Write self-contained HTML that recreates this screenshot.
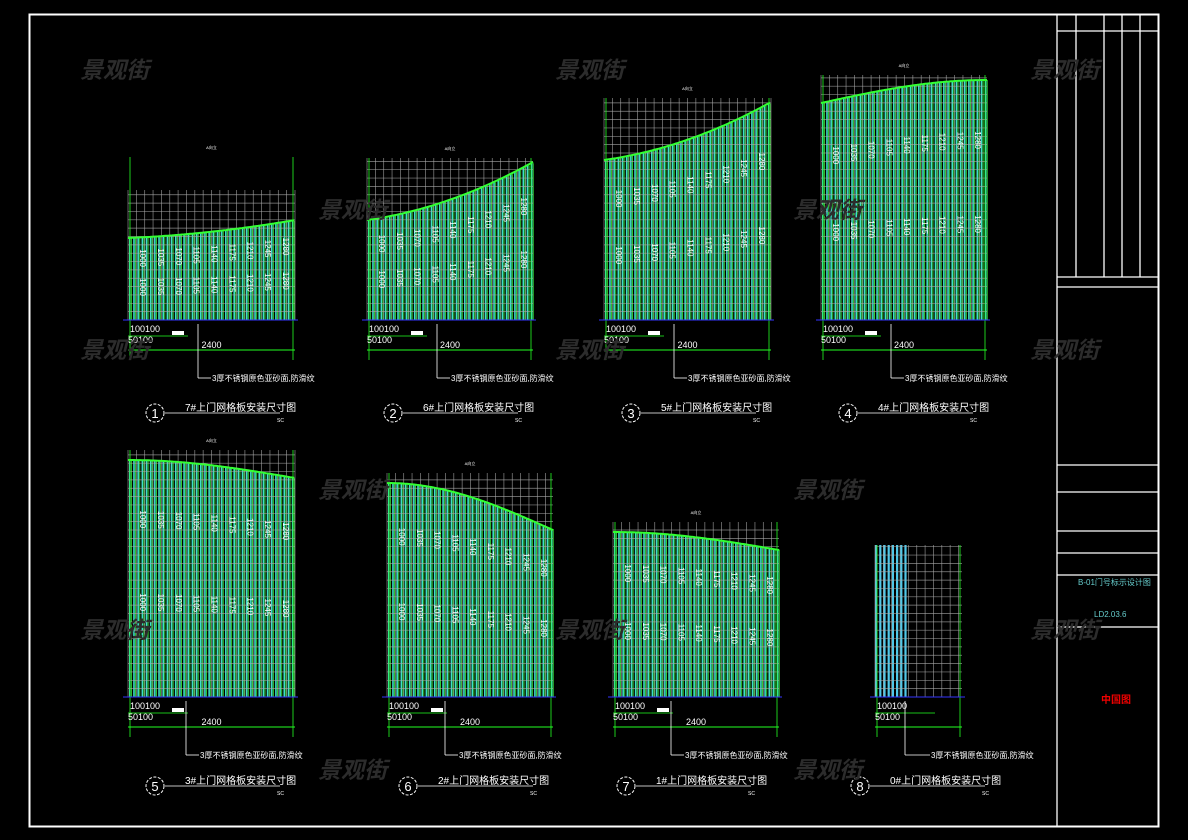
<!DOCTYPE html>
<html><head><meta charset="utf-8"><style>
html,body{margin:0;padding:0;background:#000;}
svg{display:block;}
text{font-family:"Liberation Sans","Noto Sans CJK SC",sans-serif;}
</style></head><body>
<svg id="s" width="1188" height="840" xmlns="http://www.w3.org/2000/svg">
<rect width="1188" height="840" fill="#000"/>
<rect x="29.5" y="14.5" width="1129" height="812" fill="none" stroke="#fff" stroke-width="2"/>
<g stroke="#fff" stroke-width="1.3" fill="none">
<line x1="1057" y1="14" x2="1057" y2="826"/>
<line x1="1057" y1="31" x2="1158" y2="31"/>
<line x1="1076" y1="14" x2="1076" y2="277"/>
<line x1="1104" y1="14" x2="1104" y2="277"/>
<line x1="1122" y1="14" x2="1122" y2="277"/>
<line x1="1140" y1="14" x2="1140" y2="277"/>
<line x1="1057" y1="277" x2="1158" y2="277"/>
<line x1="1057" y1="287" x2="1158" y2="287"/>
<line x1="1057" y1="465" x2="1158" y2="465"/>
<line x1="1057" y1="492" x2="1158" y2="492"/>
<line x1="1057" y1="531" x2="1158" y2="531"/>
<line x1="1057" y1="553" x2="1158" y2="553"/>
<line x1="1057" y1="575" x2="1158" y2="575"/>
<line x1="1057" y1="627" x2="1158" y2="627"/>
</g>
<text x="1078" y="585" fill="#6cc" font-size="8">B-01门号标示设计图</text>
<text x="1094" y="617" fill="#6cc" font-size="8">LD2.03.6</text>
<text x="1101" y="703" fill="#e00" font-size="10" font-weight="bold">中国图</text>
<g id="g"></g>
<g id="wm" fill="#2c2c2c" font-size="23" font-weight="bold" font-style="italic"></g>
</svg>
<script>
const g=document.getElementById('g');let h='';
const P=[
{x0:128,x1:295,yt:190,yb:320,l:238,r:220,ext:157,n:1,t:'7#上门网格板安装尺寸图',row:0},
{x0:367,x1:533,yt:158,yb:320,l:220,r:162,ext:158,n:2,t:'6#上门网格板安装尺寸图',row:0},
{x0:604,x1:771,yt:98,yb:320,l:160,r:102,ext:98,n:3,t:'5#上门网格板安装尺寸图',row:0},
{x0:821,x1:987,yt:75,yb:320,l:103,r:80,ext:75,n:4,t:'4#上门网格板安装尺寸图',row:0},
{x0:128,x1:295,yt:450,yb:697,l:460,r:478,ext:450,n:5,t:'3#上门网格板安装尺寸图',row:1},
{x0:387,x1:553,yt:473,yb:697,l:483,r:530,ext:473,n:6,t:'2#上门网格板安装尺寸图',row:1},
{x0:613,x1:779,yt:522,yb:697,l:532,r:550,ext:522,n:7,t:'1#上门网格板安装尺寸图',row:1},
{x0:875,x1:962,yt:545,yb:697,l:545,r:545,ext:545,n:8,t:'0#上门网格板安装尺寸图',row:1,narrow:1}
];
const st=8.35;
P.forEach(p=>{
 const w=p.x1-p.x0;
 const cy=x=>{const t=(x-p.x0)/w;return p.l+(p.r-p.l)*(p.l>p.r?(p.n==4?Math.sin(t*Math.PI/2):t*t*0.6+t*0.4):(1-Math.cos(t*Math.PI/2)));};
 if(p.narrow){
  for(let x=p.x0;x<p.x0+30;x+=4.2){h+=`<rect x="${x}" y="${p.yt}" width="2.2" height="${p.yb-p.yt}" fill="#4fc8e8"/>`;}
 }else{
  for(let x=p.x0+1;x<p.x1;x+=st/2){const y=cy(x);
   h+=`<rect x="${x}" y="${y}" width="1.6" height="${p.yb-y}" fill="#3ee0c8"/>`;
   h+=`<line x1="${x+2.4}" y1="${y}" x2="${x+2.4}" y2="${p.yb}" stroke="#3c3" stroke-width="1"/>`;}
 }
 // grid
 for(let x=p.x0;x<=p.x1+0.1;x+=st)h+=`<line x1="${x}" y1="${p.yt}" x2="${x}" y2="${p.yb}" stroke="#aaa" stroke-width="0.7" opacity="0.8"/>`;
 for(let y=p.yb;y>=p.yt-0.1;y-=st)h+=`<line x1="${p.x0}" y1="${y}" x2="${p.x1}" y2="${y}" stroke="#aaa" stroke-width="0.7" opacity="0.8"/>`;
 if(!p.narrow){
  let d='';for(let x=p.x0;x<=p.x1;x+=2)d+=(d?'L':'M')+x+','+cy(x).toFixed(1);
  h+=`<path d="${d}" stroke="#3f3" stroke-width="2" fill="none"/>`;
  h+=`<text x="${(p.x0+p.x1)/2}" y="${p.ext-8}" fill="#fff" font-size="4" text-anchor="middle">A向立</text>`;
  for(let i=0;i<9;i++){const x=p.x0+12+i*(w-24)/8;
   [0.45,0.8].forEach(f=>{
   h+=`<text transform="translate(${x},${(cy(x)+(p.yb-cy(x))*(f-0.2)).toFixed(1)}) rotate(90)" fill="#fff" font-size="8" text-anchor="middle">${1000+i*35}</text>`;});}
 }
 h+=`<line x1="${p.x0+2}" y1="${p.ext}" x2="${p.x0+2}" y2="${p.yb+40}" stroke="#2f2" stroke-width="0.8"/>`;
 h+=`<line x1="${p.x1-2}" y1="${p.ext}" x2="${p.x1-2}" y2="${p.yb+40}" stroke="#2f2" stroke-width="0.8"/>`;
 h+=`<line x1="${p.x0-5}" y1="${p.yb}" x2="${p.x1+3}" y2="${p.yb}" stroke="#33f" stroke-width="1"/>`;
 const b=p.yb;
 h+=`<text x="${p.x0+2}" y="${b+12}" fill="#fff" font-size="9">100100</text>`;
 h+=`<text x="${p.x0}" y="${b+23}" fill="#fff" font-size="9">50100</text>`;
 h+=`<line x1="${p.x0}" y1="${b+30}" x2="${p.x1}" y2="${b+30}" stroke="#2f2" stroke-width="1"/>`;
 h+=`<line x1="${p.x0}" y1="${b+16}" x2="${p.x0+60}" y2="${b+16}" stroke="#2f2" stroke-width="0.8"/>`;
 if(!p.narrow){h+=`<text x="${(p.x0+p.x1)/2}" y="${b+28}" fill="#fff" font-size="9" text-anchor="middle">2400</text>`;
 h+=`<rect x="${p.x0+44}" y="${b+11}" width="12" height="4" fill="#fff"/>`;}
 const lx=p.narrow?p.x0+30:p.x0+(p.row?58:70);
 h+=`<line x1="${lx}" y1="${b+4}" x2="${lx}" y2="${b+58}" stroke="#fff" stroke-width="0.8"/>`;
 const ex=p.narrow?p.x0+55:lx+13;
 h+=`<line x1="${lx}" y1="${b+58}" x2="${ex}" y2="${b+58}" stroke="#fff" stroke-width="0.8"/>`;
 h+=`<text x="${ex+1}" y="${b+61}" fill="#fff" font-size="8">3厚不锈钢原色亚砂面,防滑纹</text>`;
 const ty=p.row?786:413;
 const ccx=[155,393,631,848,155,408,626,860][p.n-1];
 h+=`<circle cx="${ccx}" cy="${ty}" r="9" fill="none" stroke="#fff" stroke-width="1" stroke-dasharray="3 1.5"/>`;
 h+=`<text x="${ccx}" y="${ty+5}" fill="#fff" font-size="13" text-anchor="middle">${p.n}</text>`;
 h+=`<line x1="${ccx+10}" y1="${ty}" x2="${ccx+125}" y2="${ty}" stroke="#fff" stroke-width="0.8"/>`;
 h+=`<text x="${ccx+30}" y="${ty-2}" fill="#fff" font-size="10">${p.t}</text>`;
 h+=`<text x="${ccx+122}" y="${ty+9}" fill="#fff" font-size="5">SC</text>`;
});
g.innerHTML=h;
let w='';
[[80,78],[555,78],[1030,78],[318,218],[793,218],[80,358],[555,358],[1030,358],[318,498],[793,498],[80,638],[555,638],[1030,638],[318,778],[793,778]].forEach(a=>w+=`<text x="${a[0]}" y="${a[1]}">景观街</text>`);
document.getElementById('wm').innerHTML=w;
</script>
</body></html>
